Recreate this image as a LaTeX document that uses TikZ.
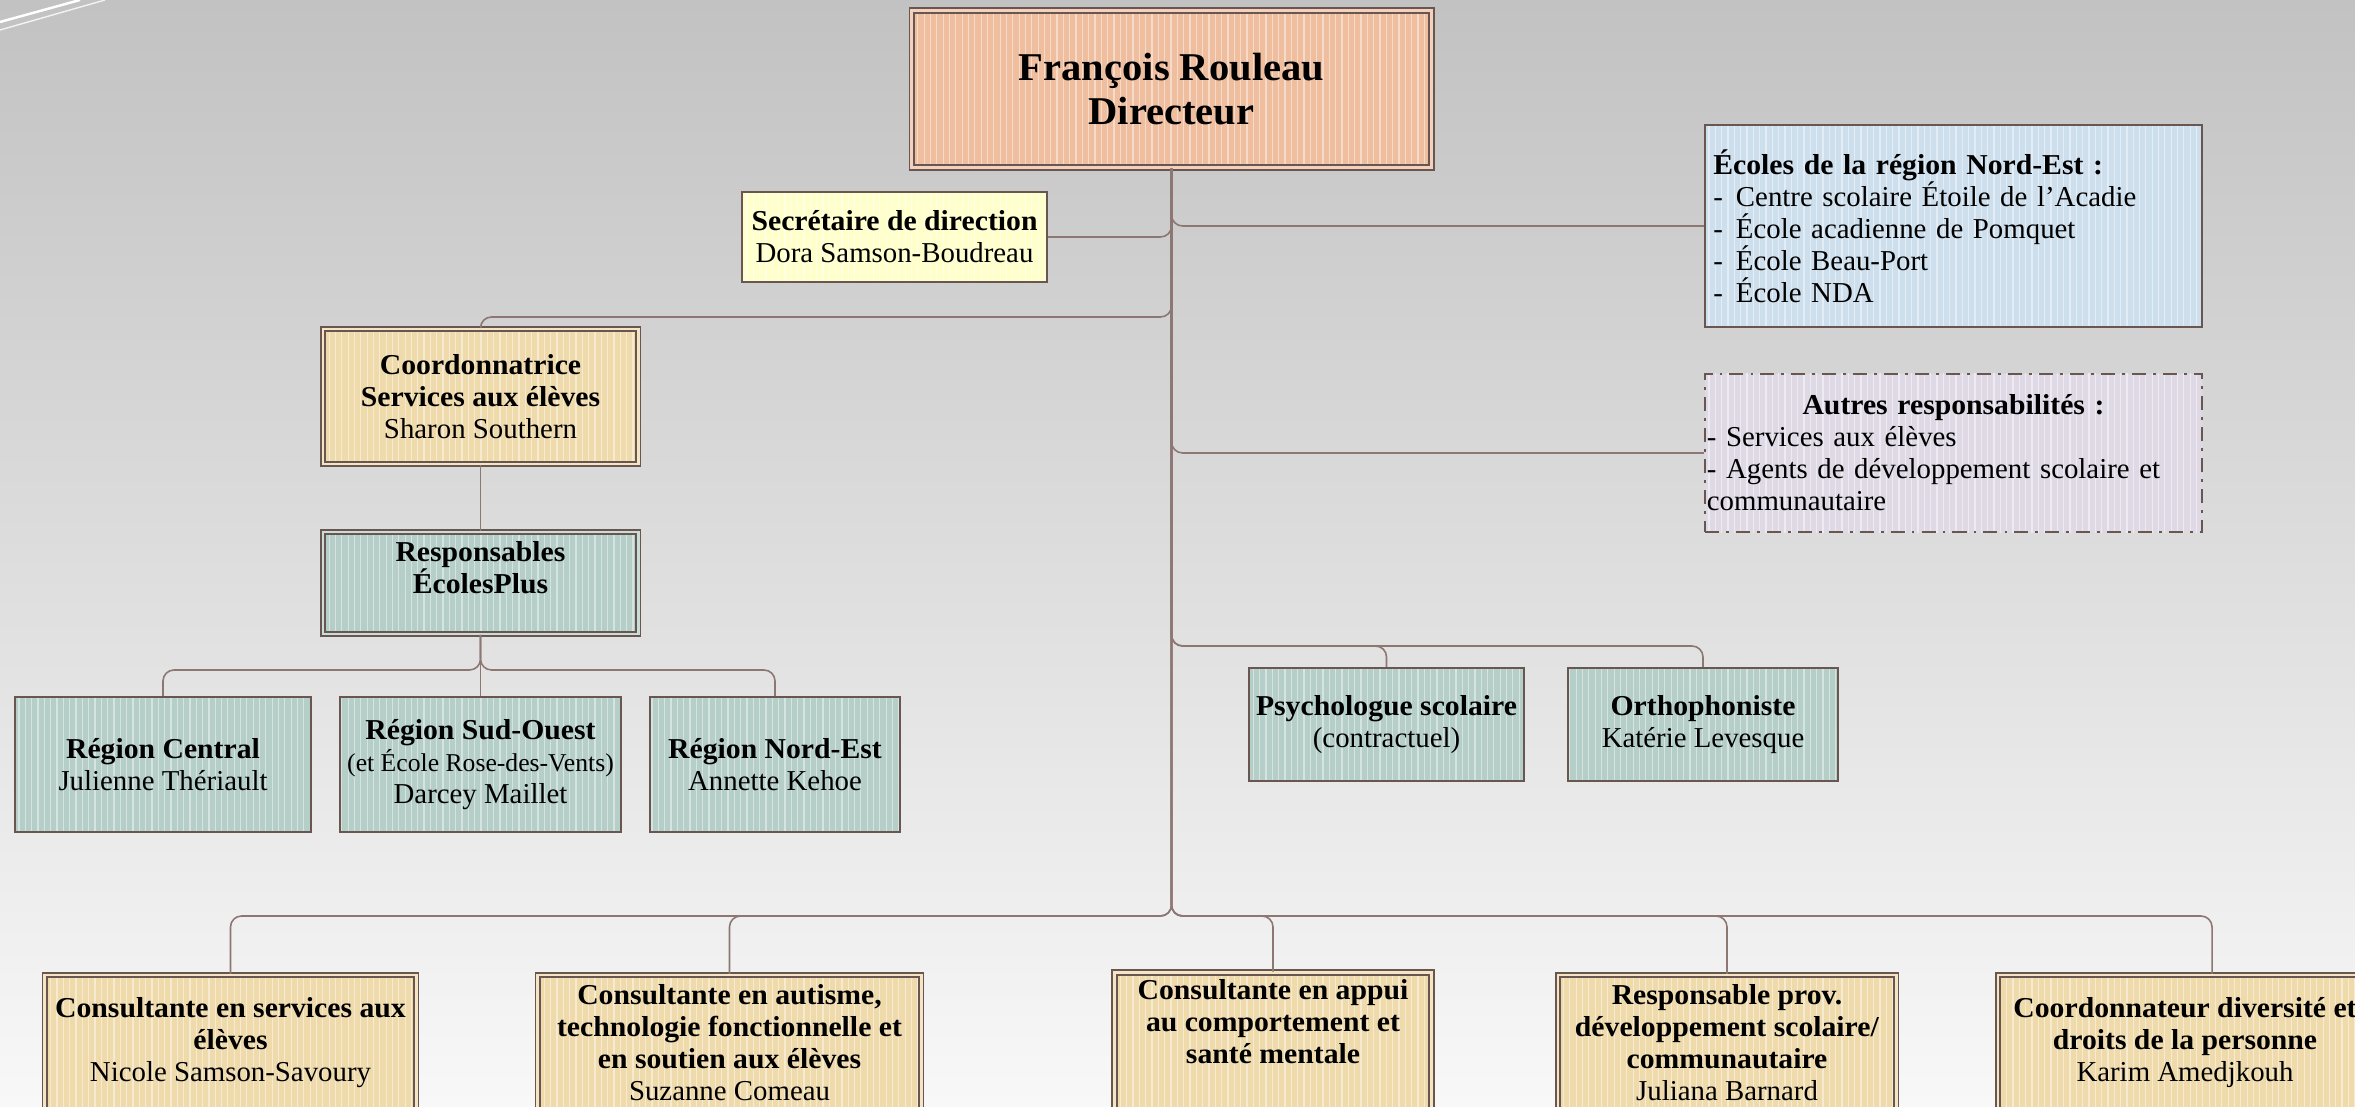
\documentclass[tikz,border=0pt]{standalone}
\usepackage{fontspec}
\setmainfont{Liberation Serif}[BoldFeatures={FakeStretch=1.03}]
\usetikzlibrary{calc,patterns.meta}

\definecolor{bgtop}{HTML}{C2C2C2}
\definecolor{bgbot}{HTML}{F8F8F8}
\definecolor{boxline}{HTML}{6A5650}
\definecolor{linkc}{HTML}{8C7772}
\definecolor{dirfill}{HTML}{EFBE9F}
\definecolor{secfill}{HTML}{FFFFCC}
\definecolor{wheatfill}{HTML}{EFDAAB}
\definecolor{tealfill}{HTML}{B5CEC8}
\definecolor{bluefill}{HTML}{CDDEEC}
\definecolor{lavfill}{HTML}{DFD8E5}

\newcommand\dirfont{\fontsize{11.2}{12.5}\selectfont\bfseries\lineskiplimit=-5pt\relax}
\newcommand\boxfont{\fontsize{8.2}{9.1}\selectfont\lineskiplimit=-5pt\relax}
\newcommand\smallfont{\fontsize{7.3}{9.1}\selectfont}
\newcommand\itm{-\hspace{0.45em}}

\tikzset{
  sbox/.style={draw=boxline, line width=0.6pt, inner sep=2pt,
    align=center, font=\boxfont, preaction={fill=#1},
    preaction={pattern={Lines[angle=90, distance=1.8pt, line width=0.35pt]},
      pattern color=#1!55!white}},
  dbox/.style={sbox=#1, double=#1!70!white, double distance=0.8pt, line width=0.55pt},
  link/.style={draw=linkc, line width=0.45pt, rounded corners=0.11cm}
}

\begin{document}
\begin{tikzpicture}[x=0.01cm, y=-0.01cm]

    % Background
    \shade[top color=bgtop, bottom color=bgbot] (0,0) rectangle (2355,1107);
    \useasboundingbox (0,0) rectangle (2355,1107);
    \draw[white, line width=0.7pt] (0,22) -- (80,0);
    \draw[white, line width=0.4pt, opacity=0.8] (0,30) -- (105,0);

    % Director and staff
    \node[dbox=dirfill, font=\dirfont, minimum width=5.19cm, minimum height=1.57cm]
      (dir) at (1171.5,89) {François Rouleau\\Directeur};
    \node[sbox=secfill, minimum width=3.05cm, minimum height=0.9cm]
      (sec) at (894.5,237) {\textbf{Secrétaire de direction}\\Dora Samson-Boudreau};

    % Right side: schools and other duties
    \node[sbox=bluefill, minimum width=4.97cm, minimum height=2.02cm,
      text width=4.8cm, align=left] (ecoles) at (1953.5,226)
      {\textbf{Écoles de la région Nord-Est :}\\
       \itm Centre scolaire Étoile de l’Acadie\\
       \itm École acadienne de Pomquet\\
       \itm École Beau-Port\\
       \itm École NDA};
    \node[sbox=lavfill, dash pattern=on 4pt off 2pt on 0.8pt off 2pt,
      minimum width=4.97cm, minimum height=1.58cm, inner xsep=0.02cm,
      text width=4.93cm, align=left] (autres) at (1953.5,453)
      {\makebox[\hsize][c]{\textbf{Autres responsabilités :}}\\
       - Services aux élèves\\
       - Agents de développement scolaire et\\
       communautaire};

    % Student services
    \node[dbox=wheatfill, minimum width=3.15cm, minimum height=1.35cm]
      (coord) at (480.5,396.5)
      {\textbf{Coordonnatrice}\\\textbf{Services aux élèves}\\Sharon Southern};
    \node[dbox=tealfill, minimum width=3.15cm, minimum height=1.02cm, text depth=0.3cm]
      (resp) at (480.5,583) {\textbf{Responsables}\\\textbf{ÉcolesPlus}};

    % Regions
    \node[sbox=tealfill, minimum width=2.96cm, minimum height=1.35cm]
      (rc) at (163,764.5) {\textbf{Région Central}\\Julienne Thériault};
    \node[sbox=tealfill, minimum width=2.72cm, minimum height=1.35cm]
      (rso) at (480.5,764.5)
      {\textbf{Région Sud-Ouest}\\{\smallfont (et École Rose-des-Vents)}\\Darcey Maillet};
    \node[sbox=tealfill, minimum width=2.5cm, minimum height=1.35cm]
      (rne) at (775,764.5) {\textbf{Région Nord-Est}\\Annette Kehoe};

    % Psychologist and speech therapist
    \node[sbox=tealfill, minimum width=2.71cm, minimum height=1.13cm]
      (psy) at (1386.5,724.5) {\textbf{Psychologue scolaire}\\(contractuel)};
    \node[sbox=tealfill, minimum width=2.7cm, minimum height=1.13cm]
      (ortho) at (1703,724.5) {\textbf{Orthophoniste}\\Katérie Levesque};

    % Consultants (bottom row)
    \node[dbox=wheatfill, minimum width=3.71cm, minimum height=1.35cm]
      (b1) at (230.5,1042.5)
      {\textbf{Consultante en services aux}\\\textbf{élèves}\\Nicole Samson-Savoury};
    \node[dbox=wheatfill, minimum width=3.83cm, minimum height=1.35cm]
      (b2) at (729.5,1042.5)
      {\textbf{Consultante en autisme,}\\\textbf{technologie fonctionnelle et}\\
       \textbf{en soutien aux élèves}\\Suzanne Comeau};
    \node[dbox=wheatfill, minimum width=3.17cm, minimum height=1.35cm]
      (b3) at (1273,1042.5)
      {\textbf{Consultante en appui}\\\textbf{au comportement et}\\
       \textbf{santé mentale}\\\strut};
    \node[dbox=wheatfill, minimum width=3.38cm, minimum height=1.35cm]
      (b4) at (1727,1042.5)
      {\textbf{Responsable prov.}\\\textbf{développement scolaire/}\\
       \textbf{communautaire}\\Juliana Barnard};
    \node[dbox=wheatfill, minimum width=3.74cm, minimum height=1.35cm]
      (b5) at (2185,1042.5)
      {\textbf{Coordonnateur diversité et}\\\textbf{droits de la personne}\\Karim Amedjkouh};

    % Bus levels
    \coordinate (busCoord) at (1171.5,317);
    \coordinate (busReg) at (480.5,670);
    \coordinate (busPsy) at (1171.5,646);
    \coordinate (busBot) at (1171.5,916);

    % Connectors
    \draw[link] (dir.south) |- (sec.east);
    \draw[link] (dir.south) |- (ecoles.west);
    \draw[link] (dir.south) |- (autres.west);
    \draw[link] (dir.south) |- (coord.north |- busCoord) -- (coord.north);
    \draw[link] (dir.south) |- (psy.north |- busPsy) -- (psy.north);
    \draw[link] (dir.south) |- (ortho.north |- busPsy) -- (ortho.north);
    \foreach \b in {b1,b2,b3,b4}
      \draw[link] (dir.south) |- (\b.north |- busBot) -- (\b.north);
    \draw[link] (dir.south) |- ([xshift=0.27cm]b5.north |- busBot) -- ([xshift=0.27cm]b5.north);
    \draw[link] (coord.south) -- (resp.north);
    \draw[link] (resp.south) -- (rso.north);
    \foreach \r in {rc,rne}
      \draw[link] (resp.south) |- (\r.north |- busReg) -- (\r.north);

\end{tikzpicture}
\end{document}
